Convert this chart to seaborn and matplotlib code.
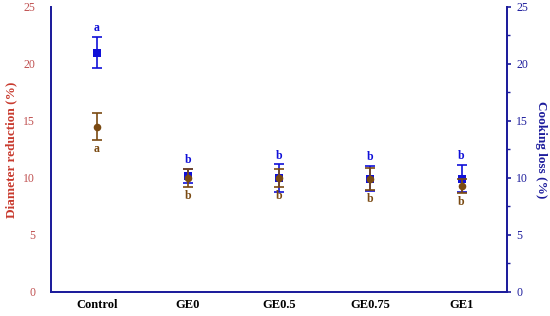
import numpy as np
import pandas as pd
import seaborn as sns
import matplotlib.pyplot as plt
from matplotlib.ticker import MultipleLocator

# данные
groups = ['Control', 'GE0', 'GE0.5', 'GE0.75', 'GE1']
diam = [14.5, 10.0, 10.0, 9.9, 9.3]
diam_err = [1.2, 0.8, 0.8, 0.95, 0.6]
diam_letters = ['a', 'b', 'b', 'b', 'b']
cook = [21.0, 10.2, 10.0, 9.95, 9.95]
cook_err = [1.35, 0.6, 1.2, 1.1, 1.2]
cook_letters = ['a', 'b', 'b', 'b', 'b']

sns.set_style('white')
plt.rcParams['font.family'] = ['Liberation Serif', 'DejaVu Serif']

navy = '#1c1c9c'
brown = '#7a4a12'
blue = '#1010d8'
red = '#c83a2e'

df = pd.DataFrame({'group': groups, 'diam': diam, 'cook': cook})
pos = np.arange(len(groups))

fig = plt.figure(figsize=(5.5, 3.16), dpi=100)
ax = fig.add_axes([0.093, 0.076, 0.829, 0.902])
ax2 = ax.twinx()

# cooking loss (синие квадраты)
ax2.errorbar(pos, cook, yerr=cook_err, fmt='none', ecolor=blue, elinewidth=1.2,
             capsize=3.5, capthick=1.2, zorder=2)
sns.scatterplot(data=df, x='group', y='cook', ax=ax2, marker='s', color=blue,
                s=30, edgecolor=blue, linewidth=0, zorder=3)

# diameter reduction (коричневые кружки)
ax2.errorbar(pos, diam, yerr=diam_err, fmt='none', ecolor=brown, elinewidth=1.2,
             capsize=3.5, capthick=1.2, zorder=4)
sns.scatterplot(data=df, x='group', y='diam', ax=ax2, marker='o', color=brown,
                s=30, edgecolor=brown, linewidth=0, zorder=5)

for i in range(len(groups)):
    ax2.annotate(cook_letters[i], (pos[i], cook[i] + cook_err[i]), xytext=(0, 2),
                 textcoords='offset points', ha='center', va='bottom',
                 color=blue, fontsize=8.5, fontweight='bold')
    ax2.annotate(diam_letters[i], (pos[i], diam[i] - diam_err[i]), xytext=(0, -2),
                 textcoords='offset points', ha='center', va='top',
                 color=brown, fontsize=8.5, fontweight='bold')

for a in (ax, ax2):
    a.set_xlim(-0.5, 4.5)
    a.set_ylim(0, 25)
    a.yaxis.set_major_locator(MultipleLocator(5))
    for s in a.spines.values():
        s.set_color(navy)
        s.set_linewidth(1.3)
    a.spines['top'].set_visible(False)

ax.set_xticks(pos)
ax.set_xticklabels(groups, fontsize=9, fontweight='bold')
ax.tick_params(axis='x', colors=navy, length=3, width=1.2, direction='out',
               labelcolor='black', pad=2)
ax.tick_params(axis='y', left=False, labelsize=8.5, labelcolor='#c05050', pad=8)
ax.set_ylabel('Diameter reduction (%)', color=red, fontsize=9.5, fontweight='bold',
              labelpad=4)
ax.set_xlabel('')

ax2.yaxis.set_minor_locator(MultipleLocator(2.5))
ax2.tick_params(axis='y', which='major', colors=navy, length=3, width=1.2,
                labelsize=8.5, labelcolor=navy, direction='out')
ax2.tick_params(axis='y', which='minor', colors=navy, length=2, width=1.0,
                direction='out', right=True)
ax2.set_ylabel('Cooking loss (%)', color=navy, fontsize=9.5, fontweight='bold',
               rotation=270, labelpad=14)
ax2.set_xlabel('')

fig.savefig('out.png', dpi=100)
